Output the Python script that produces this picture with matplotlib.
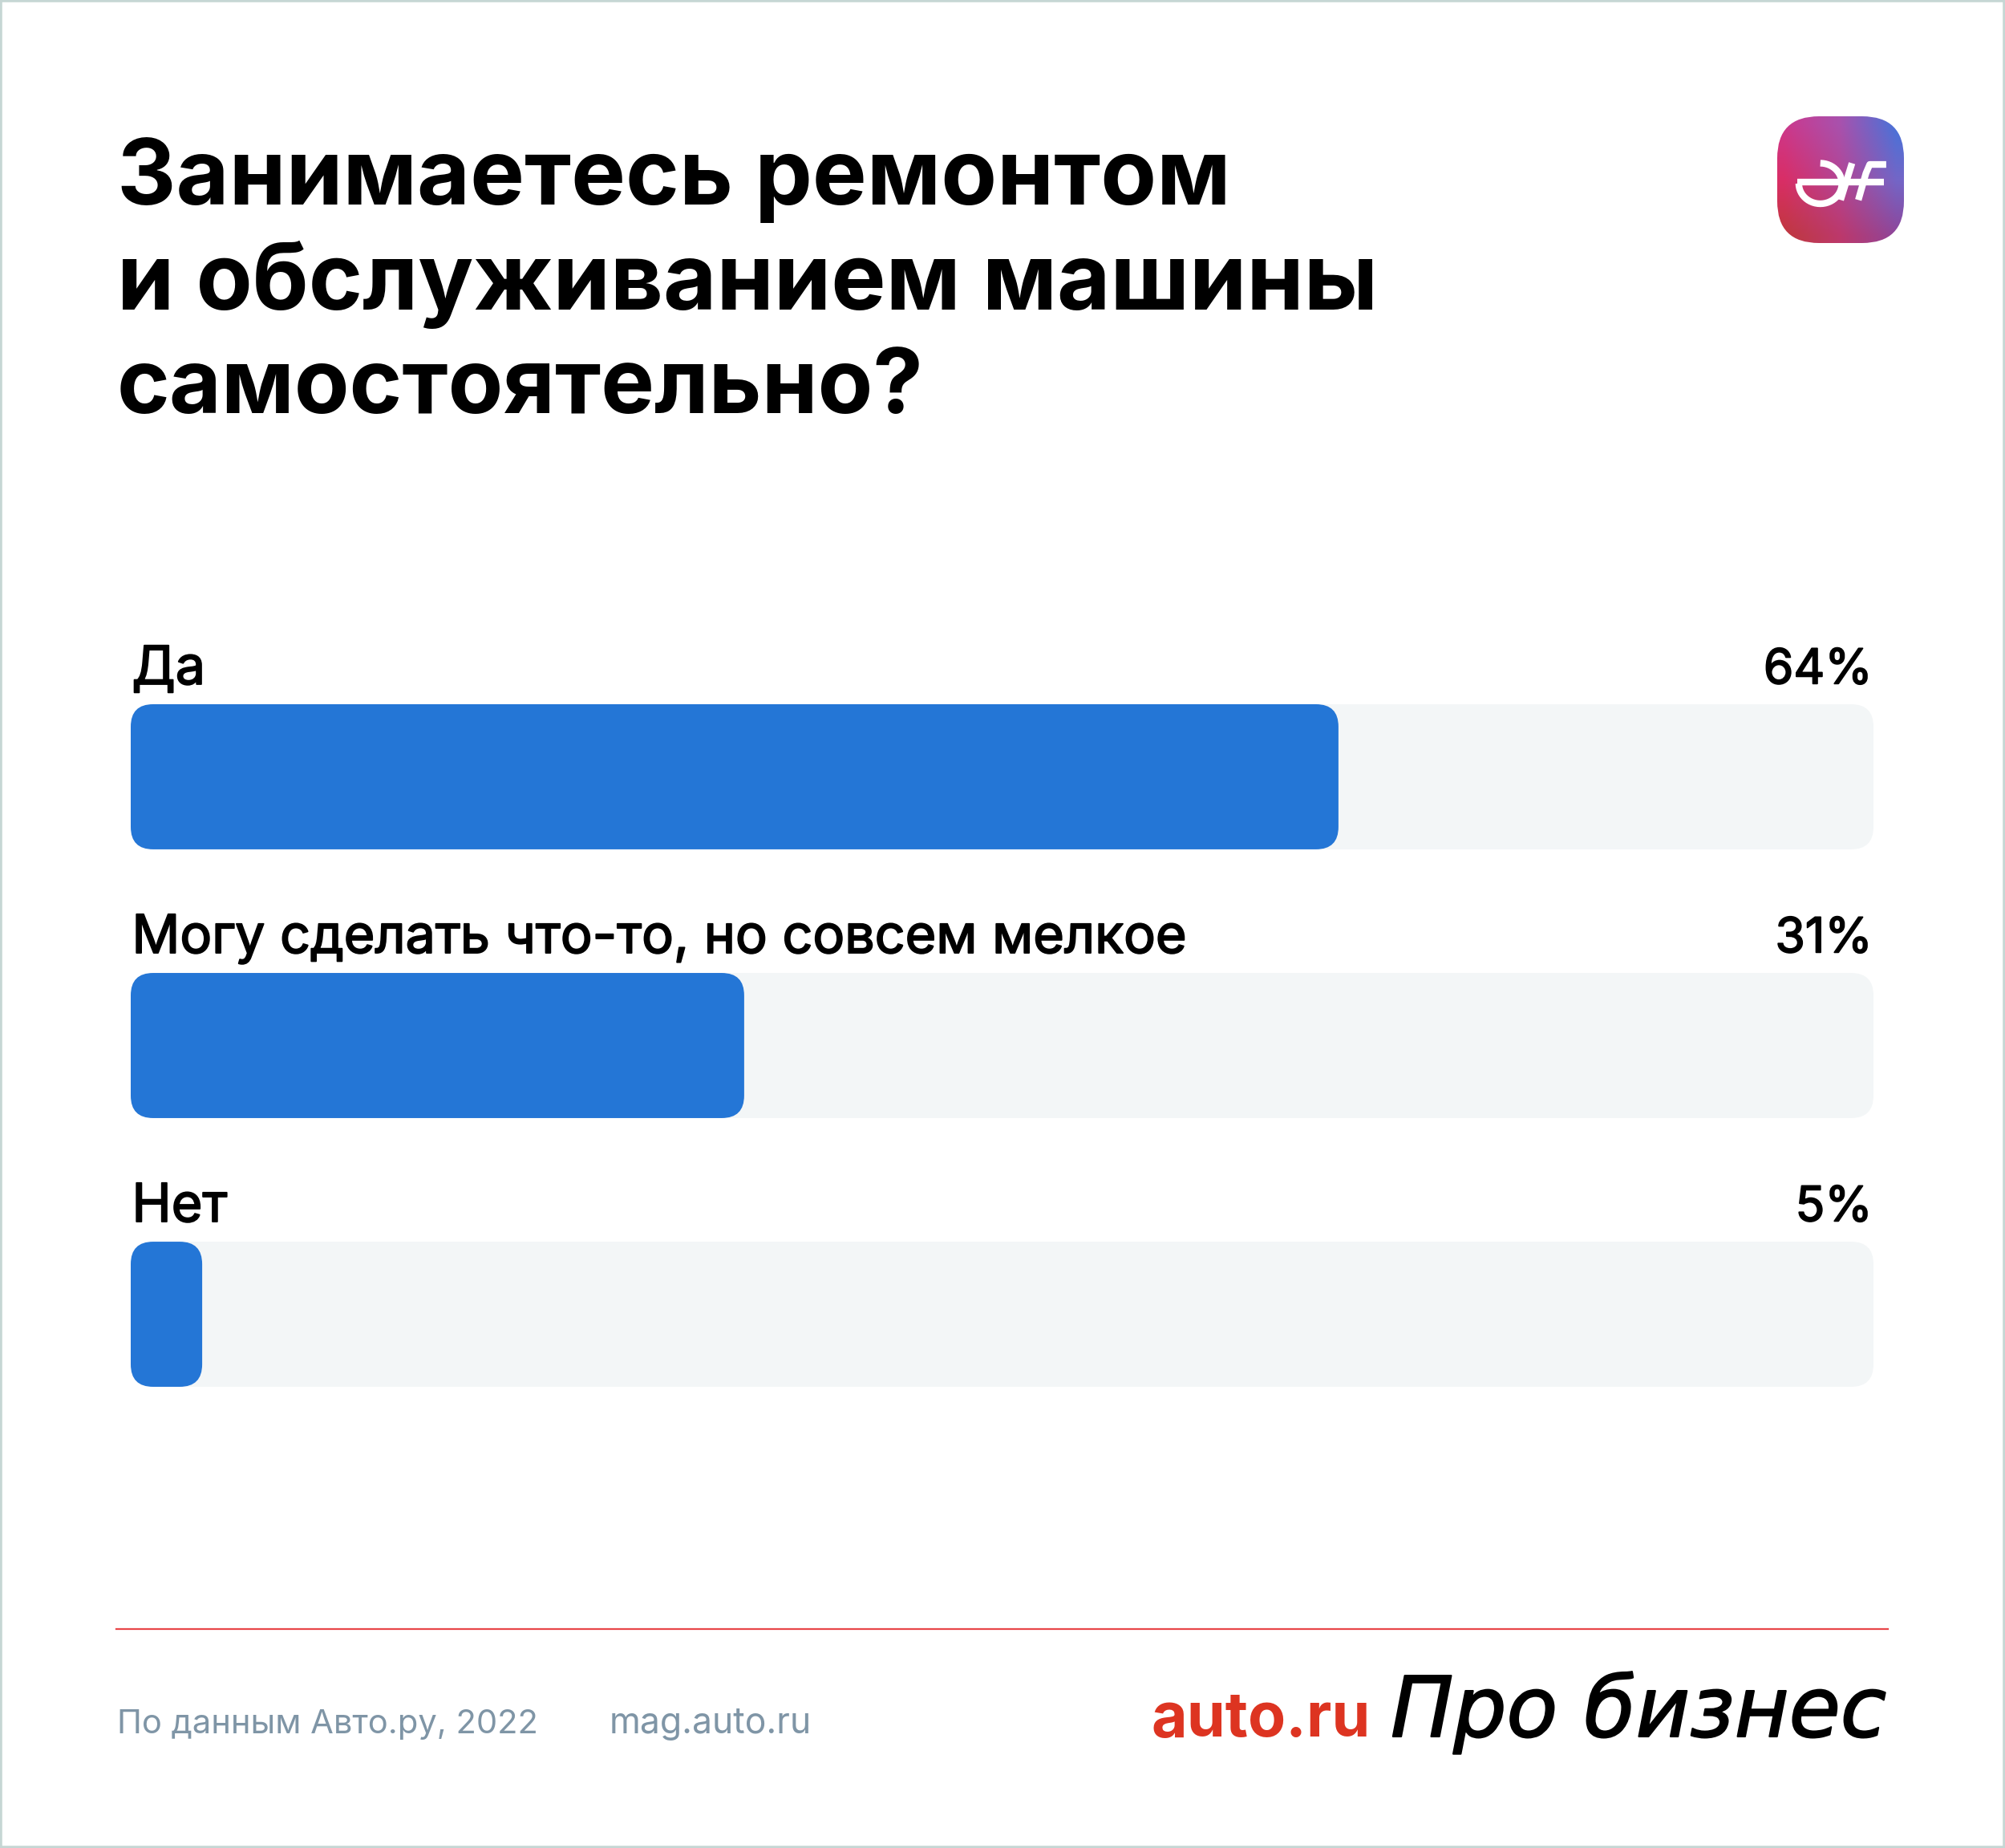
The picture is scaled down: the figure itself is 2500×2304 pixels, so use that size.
import matplotlib
matplotlib.use("Agg")
import matplotlib.pyplot as plt
import matplotlib.patheffects as pe
import numpy as np
from matplotlib.patches import FancyBboxPatch, Rectangle

W, H = 2500, 2304

title_lines = ["Занимаетесь ремонтом", "и обслуживанием машины", "самостоятельно?"]
answers = ["Да", "Могу сделать что-то, но совсем мелкое", "Нет"]
percents = [64, 31, 5]
# bar lengths as drawn in the picture, % of the track (not quite the printed numbers)
drawn_lengths = [69.3, 35.2, 4.1]
track_length = 100
source = "По данным Авто.ру, 2022"
site = "mag.auto.ru"

BLUE = "#2476D6"
TRACK = "#F3F6F7"
GREY = "#7F95A6"

plt.rcParams['font.family'] = ['Inter', 'DejaVu Sans']

fig = plt.figure(figsize=(W / 100, H / 100), dpi=100, facecolor="white")


def fx(px):
    return px / W


def fy(py):
    return 1 - py / H


# Inter has no medium weight here, so thicken the regular one a bit
medium = [pe.withStroke(linewidth=1.3, foreground="black")]

# border
fig.add_artist(Rectangle((0, 0), 1, 1, transform=fig.transFigure, fill=False,
                         edgecolor="#C6D6D4", linewidth=4))

# title
for line, base, size in zip(title_lines, [255, 386, 515], [82, 82.6, 80.7]):
    fig.text(fx(146), fy(base), line, fontsize=size, fontweight="bold", color="black", va="baseline")

# bars
ax = fig.add_axes([fx(163), fy(1729), (2336 - 163) / W, (1729 - 878) / H])
ax.set_xlim(0, track_length)
ax.set_ylim(2.27, -0.27)
ax.axis("off")

bar_h = 0.54
aspect = (2173 / 100) / 335
radius = 28 / (2173 / 100)


def round_bar(y, length, color, z):
    p = FancyBboxPatch((0, y - bar_h / 2), length, bar_h,
                       boxstyle="round,pad=0,rounding_size=%f" % radius,
                       mutation_aspect=aspect, facecolor=color, edgecolor="none",
                       clip_on=False, zorder=z)
    ax.add_patch(p)


for i in range(len(answers)):
    round_bar(i, track_length, TRACK, 1)
    round_bar(i, drawn_lengths[i], BLUE, 2)
    ax.annotate(answers[i], (0, i - bar_h / 2), xytext=(1, 18), textcoords="offset points",
                fontsize=47.8, va="baseline", ha="left", color="black", path_effects=medium)
    ax.annotate("%d%%" % percents[i], (track_length, i - bar_h / 2), xytext=(-1, 18.5),
                textcoords="offset points", fontsize=43.5,
                va="baseline", ha="right", color="black", path_effects=medium)

# app icon
logo = fig.add_axes([fx(2216), fy(303), 158 / W, 158 / H])
logo.axis("off")
grad = np.array([[[0.75, 0.22, 0.24], [0.74, 0.22, 0.42], [0.56, 0.27, 0.60]],
                 [[0.85, 0.18, 0.40], [0.70, 0.27, 0.58], [0.45, 0.40, 0.78]],
                 [[0.80, 0.22, 0.55], [0.66, 0.32, 0.68], [0.28, 0.45, 0.85]]])
im = logo.imshow(grad, extent=(-1 / 6, 7 / 6, -1 / 6, 7 / 6), origin="lower", aspect="auto",
                 interpolation="bilinear")
squircle = FancyBboxPatch((0, 0), 1, 1, boxstyle="round,pad=0,rounding_size=0.33",
                          facecolor="none", edgecolor="none", transform=logo.transData)
logo.add_patch(squircle)
im.set_clip_path(squircle)
t = np.linspace(np.pi / 2, -np.pi, 40)
logo.plot(0.34 + 0.17 * np.cos(t), 0.47 + 0.16 * np.sin(t), color="white", lw=6, solid_capstyle="butt")
logo.plot([0.16, 0.84], [0.48, 0.48], color="white", lw=6, solid_capstyle="butt")
logo.plot([0.5, 0.59], [0.34, 0.63], color="white", lw=6, solid_capstyle="butt")
logo.plot([0.64, 0.7, 0.73, 0.86], [0.34, 0.55, 0.62, 0.62], color="white", lw=6, solid_capstyle="butt")
logo.set_xlim(0, 1)
logo.set_ylim(0, 1)

# footer
fig.add_artist(plt.Line2D([fx(145), fx(2354)], [fy(2031), fy(2031)], color="#E8474A", linewidth=1.6))
fig.text(fx(146), fy(2161), source, fontsize=30, color=GREY, va="baseline")
fig.text(fx(760), fy(2161), site, fontsize=32, color=GREY, va="baseline")
fig.text(fx(1435), fy(2165), "auto.ru", fontsize=55.5, fontweight="bold", color="#DD3421", va="baseline")
fig.text(fx(1734), fy(2165), "Про бизнес", fontsize=75, family="DejaVu Sans", style="italic",
         color="black", va="baseline", path_effects=[pe.withStroke(linewidth=1.5, foreground="black")])

fig.savefig("out.png", dpi=100)
